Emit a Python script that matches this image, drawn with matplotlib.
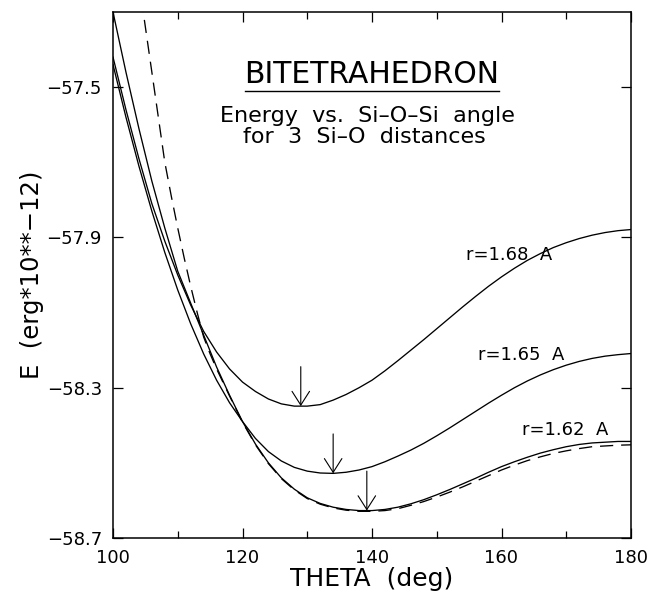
import numpy as np
import matplotlib
matplotlib.use("Agg")
import matplotlib.pyplot as plt
from matplotlib.lines import Line2D

# ---- data ----
theta = [100, 102, 104, 106, 108, 110, 112, 114, 116, 118, 120, 122, 124, 126, 128,
         130, 132, 134, 136, 138, 140, 142, 144, 146, 148, 150, 152, 154, 156, 158,
         160, 162, 164, 166, 168, 170, 172, 174, 176, 178, 180]

e_r168 = [-57.42, -57.56, -57.69, -57.81, -57.91, -58.00, -58.08, -58.15, -58.205, -58.25,
          -58.285, -58.31, -58.33, -58.343, -58.349, -58.349, -58.345, -58.333, -58.318, -58.30,
          -58.28, -58.255, -58.228, -58.20, -58.172, -58.143, -58.114, -58.085, -58.057, -58.030,
          -58.005, -57.982, -57.961, -57.943, -57.927, -57.914, -57.903, -57.894, -57.887, -57.882,
          -57.879]

e_r165 = [-57.44, -57.58, -57.71, -57.83, -57.94, -58.04, -58.13, -58.21, -58.28, -58.34,
          -58.39, -58.435, -58.47, -58.495, -58.512, -58.522, -58.527, -58.528, -58.525, -58.519,
          -58.51, -58.497, -58.482, -58.466, -58.448, -58.428, -58.407, -58.385, -58.363, -58.341,
          -58.32, -58.30, -58.282, -58.266, -58.252, -58.240, -58.230, -58.222, -58.216, -58.212,
          -58.209]

e_r162 = [-57.30, -57.46, -57.61, -57.75, -57.875, -57.99, -58.075, -58.16, -58.245, -58.32,
          -58.39, -58.45, -58.50, -58.54, -58.57, -58.593, -58.608, -58.618, -58.624, -58.627,
          -58.627, -58.624, -58.618, -58.609, -58.598, -58.585, -58.571, -58.556, -58.541, -58.525,
          -58.51, -58.497, -58.485, -58.474, -58.465, -58.457, -58.451, -58.447, -58.445, -58.443,
          -58.443]

theta_dash = [104, 105, 106, 107, 108, 109, 110, 111, 112, 113, 114, 115, 116, 118, 120,
              122, 124, 126, 128, 130, 132, 134, 136, 138, 140, 142, 144, 146, 148, 150,
              152, 154, 156, 158, 160, 162, 164, 166, 168, 170, 172, 174, 176, 178, 180]
e_dash = [-57.22, -57.34, -57.46, -57.58, -57.70, -57.79, -57.875, -57.955, -58.03, -58.10,
          -58.165, -58.21, -58.25, -58.322, -58.392, -58.452, -58.502, -58.542, -58.572, -58.595,
          -58.61, -58.62, -58.626, -58.629, -58.629, -58.627, -58.622, -58.613, -58.603, -58.591,
          -58.578, -58.564, -58.549, -58.534, -58.519, -58.506, -58.494, -58.484, -58.475, -58.468,
          -58.462, -58.457, -58.455, -58.453, -58.452]

curve_labels = ["r=1.68  A", "r=1.65  A", "r=1.62  A"]
label_theta = [154.5, 156.4, 163.2]
label_energy = [-57.948, -58.212, -58.412]

min_theta = [129.0, 134.0, 139.2]
min_energy = [-58.349, -58.528, -58.627]
arrow_len = 0.105

xticks = [100, 120, 140, 160, 180]
yticks = [-57.5, -57.9, -58.3, -58.7]
ytick_labels = ["\u221257.5", "\u221257.9", "\u221258.3", "\u221258.7"]

# ---- figure ----
W, H = 651, 596
fig = plt.figure(figsize=(W / 100, H / 100), dpi=100)
ax = fig.add_axes([113 / W, (H - 538) / H, (631 - 113) / W, (538 - 12) / H])

lw = 0.95
ax.plot(theta, e_r168, color="black", lw=lw)
ax.plot(theta, e_r165, color="black", lw=lw)
ax.plot(theta, e_r162, color="black", lw=lw)
ax.plot(theta_dash, e_dash, color="black", lw=lw, linestyle=(0, (10, 6)))

ax.set_xlim(100, 180)
ax.set_ylim(-58.7, -57.3)

ax.set_xticks(xticks)
ax.set_xticks([110, 130, 150, 170], minor=True)
ax.set_yticks(yticks)
ax.set_yticklabels(ytick_labels)
ax.tick_params(axis="both", which="both", direction="in", top=True, right=True,
               labelsize=13, width=0.9, colors="black")
ax.tick_params(axis="both", which="major", length=7)
ax.tick_params(axis="x", which="minor", length=5)
ax.tick_params(axis="x", which="major", pad=8)
ax.tick_params(axis="y", which="major", pad=8)
for s in ax.spines.values():
    s.set_linewidth(1.1)

ax.set_xlabel("THETA  (deg)", fontsize=18, labelpad=0)
ax.set_ylabel("E  (erg*10**\u221212)", fontsize=17.5, labelpad=2)

# title block
t = ax.text(0.5, 0.8645, "BITETRAHEDRON", transform=ax.transAxes, ha="center",
            va="baseline", fontsize=21.5)
ax.text(0.491, 0.7914, "Energy  vs.  Si\u2013O\u2013Si  angle", transform=ax.transAxes,
        ha="center", va="baseline", fontsize=16)
ax.text(0.486, 0.7504, "for  3  Si\u2013O  distances", transform=ax.transAxes,
        ha="center", va="baseline", fontsize=16)

for lab, lx, ly in zip(curve_labels, label_theta, label_energy):
    ax.text(lx, ly, lab, ha="left", va="center", fontsize=13)

for mx, my in zip(min_theta, min_energy):
    ax.annotate("", xy=(mx, my), xytext=(mx, my + arrow_len),
                arrowprops=dict(arrowstyle="->,head_length=0.55,head_width=0.35",
                                mutation_scale=18, lw=0.8, color="black",
                                shrinkA=0, shrinkB=0))

# underline the title (8 px below its baseline)
fig.canvas.draw()
bb = t.get_window_extent()
base_disp = ax.transAxes.transform((0.5, 0.8645))[1]
inv = fig.transFigure.inverted()
(x0, y0) = inv.transform((bb.x0, base_disp - 8))
(x1, _) = inv.transform((bb.x1, base_disp - 8))
fig.add_artist(Line2D([x0, x1], [y0, y0], transform=fig.transFigure, color="black", lw=1.0))

fig.savefig("out.png", dpi=100)
